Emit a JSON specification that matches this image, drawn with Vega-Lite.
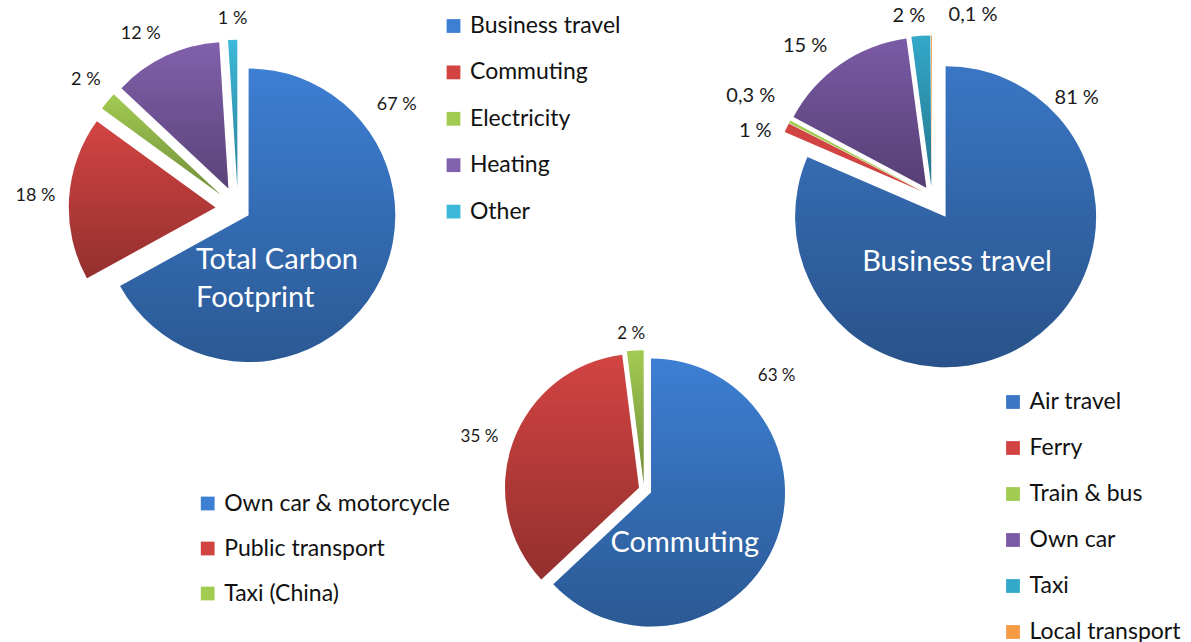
{
  "$schema": "https://vega.github.io/schema/vega-lite/v6.json",
  "padding": 0,
  "background": "white",
  "columns": 3,
  "align": "each",
  "bounds": "flush",
  "spacing": 0,
  "resolve": {"scale": {"color": "independent", "theta": "independent"}},
  "concat": [
    {
      "width": 476, "height": 418,
      "layer": [
        {
          "data": {"values": [
            {"category": "Business travel", "value": 67, "rank": 1, "label": "67 %"},
            {"category": "Commuting", "value": 18, "rank": 2, "label": "18 %"},
            {"category": "Electricity", "value": 2, "rank": 3, "label": "2 %"},
            {"category": "Heating", "value": 12, "rank": 4, "label": "12 %"},
            {"category": "Other", "value": 1, "rank": 5, "label": "1 %"}
          ]},
          "encoding": {
            "theta": {"field": "value", "type": "quantitative", "stack": true},
            "order": {"field": "rank", "type": "quantitative"}
          },
          "layer": [
            {
              "encoding": {
                "color": {"field": "category", "type": "nominal",
                  "scale": {"domain": ["Business travel", "Commuting", "Electricity", "Heating", "Other"],
                    "range": ["#3D7FD3", "#D24442", "#A2CB52", "#8160AC", "#3DB8D8"]},
                  "legend": {"title": null, "orient": "none", "legendX": 442, "legendY": 14.5, "rowPadding": 22.4}}
              },
              "layer": [
                {"mark": {"type": "arc", "outerRadius": 146.7, "xOffset": 10.6, "yOffset": 6.3},
                 "encoding": {"opacity": {"condition": {"test": "datum.category === 'Business travel'", "value": 1}, "value": 0}}},
                {"mark": {"type": "arc", "outerRadius": 146.7, "xOffset": -22.5, "yOffset": -1.4},
                 "encoding": {"opacity": {"condition": {"test": "datum.category === 'Commuting'", "value": 1}, "value": 0}}},
                {"mark": {"type": "arc", "outerRadius": 146.7, "xOffset": -17.3, "yOffset": -14.3},
                 "encoding": {"opacity": {"condition": {"test": "datum.category === 'Electricity'", "value": 1}, "value": 0}}},
                {"mark": {"type": "arc", "outerRadius": 146.7, "xOffset": -9.6, "yOffset": -20.4},
                 "encoding": {"opacity": {"condition": {"test": "datum.category === 'Heating'", "value": 1}, "value": 0}}},
                {"mark": {"type": "arc", "outerRadius": 146.7, "xOffset": -0.7, "yOffset": -22.5},
                 "encoding": {"opacity": {"condition": {"test": "datum.category === 'Other'", "value": 1}, "value": 0}}}
              ]
            },
            {"mark": {"type": "arc", "outerRadius": 146.7, "xOffset": 10.6, "yOffset": 6.3, "fill": {"gradient": "linear", "x1": 0, "y1": 0, "x2": 0, "y2": 1, "stops": [{"offset": 0, "color": "rgba(0,0,0,0)"}, {"offset": 1, "color": "rgba(0,0,0,0.3)"}]}},
             "encoding": {"opacity": {"condition": {"test": "datum.category === 'Business travel'", "value": 1}, "value": 0}}},
            {"mark": {"type": "arc", "outerRadius": 146.7, "xOffset": -22.5, "yOffset": -1.4, "fill": {"gradient": "linear", "x1": 0, "y1": 0, "x2": 0, "y2": 1, "stops": [{"offset": 0, "color": "rgba(0,0,0,0)"}, {"offset": 1, "color": "rgba(0,0,0,0.3)"}]}},
             "encoding": {"opacity": {"condition": {"test": "datum.category === 'Commuting'", "value": 1}, "value": 0}}},
            {"mark": {"type": "arc", "outerRadius": 146.7, "xOffset": -17.3, "yOffset": -14.3, "fill": {"gradient": "linear", "x1": 0, "y1": 0, "x2": 0, "y2": 1, "stops": [{"offset": 0, "color": "rgba(0,0,0,0)"}, {"offset": 1, "color": "rgba(0,0,0,0.3)"}]}},
             "encoding": {"opacity": {"condition": {"test": "datum.category === 'Electricity'", "value": 1}, "value": 0}}},
            {"mark": {"type": "arc", "outerRadius": 146.7, "xOffset": -9.6, "yOffset": -20.4, "fill": {"gradient": "linear", "x1": 0, "y1": 0, "x2": 0, "y2": 1, "stops": [{"offset": 0, "color": "rgba(0,0,0,0)"}, {"offset": 1, "color": "rgba(0,0,0,0.3)"}]}},
             "encoding": {"opacity": {"condition": {"test": "datum.category === 'Heating'", "value": 1}, "value": 0}}},
            {"mark": {"type": "arc", "outerRadius": 146.7, "xOffset": -0.7, "yOffset": -22.5, "fill": {"gradient": "linear", "x1": 0, "y1": 0, "x2": 0, "y2": 1, "stops": [{"offset": 0, "color": "rgba(0,0,0,0)"}, {"offset": 1, "color": "rgba(0,0,0,0.3)"}]}},
             "encoding": {"opacity": {"condition": {"test": "datum.category === 'Other'", "value": 1}, "value": 0}}},
            {"mark": {"type": "text", "radius": {"expr": "datum.category === 'Business travel' ? 189.7 : 0"}, "thetaOffset": -1.114, "fontSize": 18, "color": "#1a1a1a"},
             "encoding": {"text": {"condition": {"test": "datum.category === 'Business travel'", "field": "label"}, "value": ""}}},
            {"mark": {"type": "text", "radius": {"expr": "datum.category === 'Commuting' ? 203 : 0"}, "thetaOffset": 0.003, "fontSize": 18, "color": "#1a1a1a"},
             "encoding": {"text": {"condition": {"test": "datum.category === 'Commuting'", "field": "label"}, "value": ""}}},
            {"mark": {"type": "text", "radius": {"expr": "datum.category === 'Electricity' ? 199.5 : 0"}, "thetaOffset": 0.012, "fontSize": 18, "color": "#1a1a1a"},
             "encoding": {"text": {"condition": {"test": "datum.category === 'Electricity'", "field": "label"}, "value": ""}}},
            {"mark": {"type": "text", "radius": {"expr": "datum.category === 'Heating' ? 200.2 : 0"}, "thetaOffset": -0.067, "fontSize": 18, "color": "#1a1a1a"},
             "encoding": {"text": {"condition": {"test": "datum.category === 'Heating'", "field": "label"}, "value": ""}}},
            {"mark": {"type": "text", "radius": {"expr": "datum.category === 'Other' ? 190.3 : 0"}, "thetaOffset": 0.003, "fontSize": 18, "color": "#1a1a1a"},
             "encoding": {"text": {"condition": {"test": "datum.category === 'Other'", "field": "label"}, "value": ""}}}
          ]
        },
        {
          "data": {"values": [{"title": "Total Carbon\nFootprint"}]},
          "mark": {"type": "text", "align": "left", "baseline": "alphabetic", "dx": -42, "dy": 60.3, "fontSize": 29, "lineHeight": 37.4, "lineBreak": "\n", "color": "white"},
          "encoding": {"text": {"field": "title"}}
        }
      ]
    },
    {"width": 1, "height": 1, "data": {"values": []}, "mark": "point"},
    {
      "width": 240, "height": 392,
      "layer": [
        {
          "data": {"values": [
            {"category": "Air travel", "value": 81, "rank": 1, "label": "81 %"},
            {"category": "Ferry", "value": 1, "rank": 2, "label": "1 %"},
            {"category": "Train & bus", "value": 0.3, "rank": 3, "label": "0,3 %"},
            {"category": "Own car", "value": 15, "rank": 4, "label": "15 %"},
            {"category": "Taxi", "value": 2, "rank": 5, "label": "2 %"},
            {"category": "Local transport", "value": 0.1, "rank": 6, "label": "0,1 %"}
          ]},
          "encoding": {
            "theta": {"field": "value", "type": "quantitative", "stack": true},
            "order": {"field": "rank", "type": "quantitative"}
          },
          "layer": [
            {
              "encoding": {
                "color": {"field": "category", "type": "nominal",
                  "scale": {"domain": ["Air travel", "Ferry", "Train & bus", "Own car", "Taxi", "Local transport"],
                    "range": ["#3A76C4", "#D24442", "#A2CB52", "#7A5AA5", "#33A8C8", "#F79A46"]},
                  "legend": {"title": null, "orient": "none", "legendX": 189.5, "legendY": 390.5, "rowPadding": 22}}
              },
              "layer": [
                {"mark": {"type": "arc", "outerRadius": 150.5, "xOffset": 13.6, "yOffset": 20.7},
                 "encoding": {"opacity": {"condition": {"test": "datum.category === 'Air travel'", "value": 1}, "value": 0}}},
                {"mark": {"type": "arc", "outerRadius": 150.5, "xOffset": -9.1, "yOffset": -4.3},
                 "encoding": {"opacity": {"condition": {"test": "datum.category === 'Ferry'", "value": 1}, "value": 0}}},
                {"mark": {"type": "arc", "outerRadius": 150.5, "xOffset": -8.9, "yOffset": -4.6},
                 "encoding": {"opacity": {"condition": {"test": "datum.category === 'Train & bus'", "value": 1}, "value": 0}}},
                {"mark": {"type": "arc", "outerRadius": 150.5, "xOffset": -5.7, "yOffset": -8.2},
                 "encoding": {"opacity": {"condition": {"test": "datum.category === 'Own car'", "value": 1}, "value": 0}}},
                {"mark": {"type": "arc", "outerRadius": 150.5, "xOffset": -0.7, "yOffset": -10},
                 "encoding": {"opacity": {"condition": {"test": "datum.category === 'Taxi'", "value": 1}, "value": 0}}},
                {"mark": {"type": "arc", "outerRadius": 150.5, "xOffset": 0, "yOffset": -10},
                 "encoding": {"opacity": {"condition": {"test": "datum.category === 'Local transport'", "value": 1}, "value": 0}}}
              ]
            },
            {"mark": {"type": "arc", "outerRadius": 150.5, "xOffset": 13.6, "yOffset": 20.7, "fill": {"gradient": "linear", "x1": 0, "y1": 0, "x2": 0, "y2": 1, "stops": [{"offset": 0, "color": "rgba(0,0,0,0)"}, {"offset": 1, "color": "rgba(0,0,0,0.3)"}]}},
             "encoding": {"opacity": {"condition": {"test": "datum.category === 'Air travel'", "value": 1}, "value": 0}}},
            {"mark": {"type": "arc", "outerRadius": 150.5, "xOffset": -5.7, "yOffset": -8.2, "fill": {"gradient": "linear", "x1": 0, "y1": 0, "x2": 0, "y2": 1, "stops": [{"offset": 0, "color": "rgba(0,0,0,0)"}, {"offset": 1, "color": "rgba(0,0,0,0.3)"}]}},
             "encoding": {"opacity": {"condition": {"test": "datum.category === 'Own car'", "value": 1}, "value": 0}}},
            {"mark": {"type": "arc", "outerRadius": 150.5, "xOffset": -0.7, "yOffset": -10, "fill": {"gradient": "linear", "x1": 0, "y1": 0, "x2": 0, "y2": 1, "stops": [{"offset": 0, "color": "rgba(0,0,0,0)"}, {"offset": 1, "color": "rgba(0,0,0,0.3)"}]}},
             "encoding": {"opacity": {"condition": {"test": "datum.category === 'Taxi'", "value": 1}, "value": 0}}},
            {"mark": {"type": "text", "radius": {"expr": "datum.category === 'Air travel' ? 174.6 : 0"}, "thetaOffset": -1.583, "fontSize": 20, "color": "#1a1a1a"},
             "encoding": {"text": {"condition": {"test": "datum.category === 'Air travel'", "field": "label"}, "value": ""}}},
            {"mark": {"type": "text", "radius": {"expr": "datum.category === 'Ferry' ? 188.2 : 0"}, "thetaOffset": -0.0885, "fontSize": 20, "color": "#1a1a1a"},
             "encoding": {"text": {"condition": {"test": "datum.category === 'Ferry'", "field": "label"}, "value": ""}}},
            {"mark": {"type": "text", "radius": {"expr": "datum.category === 'Train & bus' ? 206.9 : 0"}, "thetaOffset": 0.023, "fontSize": 20, "color": "#1a1a1a"},
             "encoding": {"text": {"condition": {"test": "datum.category === 'Train & bus'", "field": "label"}, "value": ""}}},
            {"mark": {"type": "text", "radius": {"expr": "datum.category === 'Own car' ? 196.4 : 0"}, "thetaOffset": -0.096, "fontSize": 20, "color": "#1a1a1a"},
             "encoding": {"text": {"condition": {"test": "datum.category === 'Own car'", "field": "label"}, "value": ""}}},
            {"mark": {"type": "text", "radius": {"expr": "datum.category === 'Taxi' ? 181.3 : 0"}, "thetaOffset": -0.058, "fontSize": 20, "color": "#1a1a1a"},
             "encoding": {"text": {"condition": {"test": "datum.category === 'Taxi'", "field": "label"}, "value": ""}}},
            {"mark": {"type": "text", "radius": {"expr": "datum.category === 'Local transport' ? 185.9 : 0"}, "thetaOffset": 0.2255, "fontSize": 20, "color": "#1a1a1a"},
             "encoding": {"text": {"condition": {"test": "datum.category === 'Local transport'", "field": "label"}, "value": ""}}}
          ]
        },
        {
          "data": {"values": [{"title": "Business travel"}]},
          "mark": {"type": "text", "align": "center", "baseline": "alphabetic", "dx": 25, "dy": 74.7, "fontSize": 29, "color": "white"},
          "encoding": {"text": {"field": "title"}}
        }
      ]
    },
    {"width": 1, "height": 1, "data": {"values": []}, "mark": "point"},
    {
      "width": 336, "height": 143,
      "layer": [
        {
          "data": {"values": [
            {"category": "Own car & motorcycle", "value": 63, "rank": 1, "label": "63 %"},
            {"category": "Public transport", "value": 35, "rank": 2, "label": "35 %"},
            {"category": "Taxi (China)", "value": 2, "rank": 3, "label": "2 %"}
          ]},
          "encoding": {
            "theta": {"field": "value", "type": "quantitative", "stack": true},
            "order": {"field": "rank", "type": "quantitative"}
          },
          "layer": [
            {
              "encoding": {
                "color": {"field": "category", "type": "nominal",
                  "scale": {"domain": ["Own car & motorcycle", "Public transport", "Taxi (China)"],
                    "range": ["#3D7FD3", "#D24442", "#A2CB52"]},
                  "legend": {"title": null, "orient": "none", "legendX": -279.8, "legendY": 74, "rowPadding": 21}}
              },
              "layer": [
                {"mark": {"type": "arc", "outerRadius": 134, "xOffset": 7, "yOffset": 3},
                 "encoding": {"opacity": {"condition": {"test": "datum.category === 'Own car & motorcycle'", "value": 1}, "value": 0}}},
                {"mark": {"type": "arc", "outerRadius": 134, "xOffset": -5, "yOffset": -1.8},
                 "encoding": {"opacity": {"condition": {"test": "datum.category === 'Public transport'", "value": 1}, "value": 0}}},
                {"mark": {"type": "arc", "outerRadius": 134, "xOffset": -0.3, "yOffset": -5.3},
                 "encoding": {"opacity": {"condition": {"test": "datum.category === 'Taxi (China)'", "value": 1}, "value": 0}}}
              ]
            },
            {"mark": {"type": "arc", "outerRadius": 134, "xOffset": 7, "yOffset": 3, "fill": {"gradient": "linear", "x1": 0, "y1": 0, "x2": 0, "y2": 1, "stops": [{"offset": 0, "color": "rgba(0,0,0,0)"}, {"offset": 1, "color": "rgba(0,0,0,0.3)"}]}},
             "encoding": {"opacity": {"condition": {"test": "datum.category === 'Own car & motorcycle'", "value": 1}, "value": 0}}},
            {"mark": {"type": "arc", "outerRadius": 134, "xOffset": -5, "yOffset": -1.8, "fill": {"gradient": "linear", "x1": 0, "y1": 0, "x2": 0, "y2": 1, "stops": [{"offset": 0, "color": "rgba(0,0,0,0)"}, {"offset": 1, "color": "rgba(0,0,0,0.3)"}]}},
             "encoding": {"opacity": {"condition": {"test": "datum.category === 'Public transport'", "value": 1}, "value": 0}}},
            {"mark": {"type": "arc", "outerRadius": 134, "xOffset": -0.3, "yOffset": -5.3, "fill": {"gradient": "linear", "x1": 0, "y1": 0, "x2": 0, "y2": 1, "stops": [{"offset": 0, "color": "rgba(0,0,0,0)"}, {"offset": 1, "color": "rgba(0,0,0,0.3)"}]}},
             "encoding": {"opacity": {"condition": {"test": "datum.category === 'Taxi (China)'", "value": 1}, "value": 0}}},
            {"mark": {"type": "text", "radius": {"expr": "datum.category === 'Own car & motorcycle' ? 174.4 : 0"}, "thetaOffset": -1.115, "fontSize": 17, "color": "#1a1a1a"},
             "encoding": {"text": {"condition": {"test": "datum.category === 'Own car & motorcycle'", "field": "label"}, "value": ""}}},
            {"mark": {"type": "text", "radius": {"expr": "datum.category === 'Public transport' ? 172.7 : 0"}, "thetaOffset": -0.037, "fontSize": 17, "color": "#1a1a1a"},
             "encoding": {"text": {"condition": {"test": "datum.category === 'Public transport'", "field": "label"}, "value": ""}}},
            {"mark": {"type": "text", "radius": {"expr": "datum.category === 'Taxi (China)' ? 156.2 : 0"}, "thetaOffset": -0.019, "fontSize": 17, "color": "#1a1a1a"},
             "encoding": {"text": {"condition": {"test": "datum.category === 'Taxi (China)'", "field": "label"}, "value": ""}}}
          ]
        },
        {
          "data": {"values": [{"title": "Commuting"}]},
          "mark": {"type": "text", "align": "center", "baseline": "alphabetic", "dx": 40.7, "dy": 62.2, "fontSize": 29, "color": "white"},
          "encoding": {"text": {"field": "title"}}
        }
      ]
    }
  ],
  "config": {
    "view": {"stroke": null},
    "font": "Lato",
    "text": {"font": "Lato"},
    "legend": {
      "labelFont": "Lato", "labelFontSize": 23, "labelColor": "#111111",
      "symbolType": "square", "symbolSize": 190, "rowPadding": 22, "labelOffset": 5,
      "labelLimit": 500, "padding": 0, "symbolStrokeWidth": 0
    }
  }
}
